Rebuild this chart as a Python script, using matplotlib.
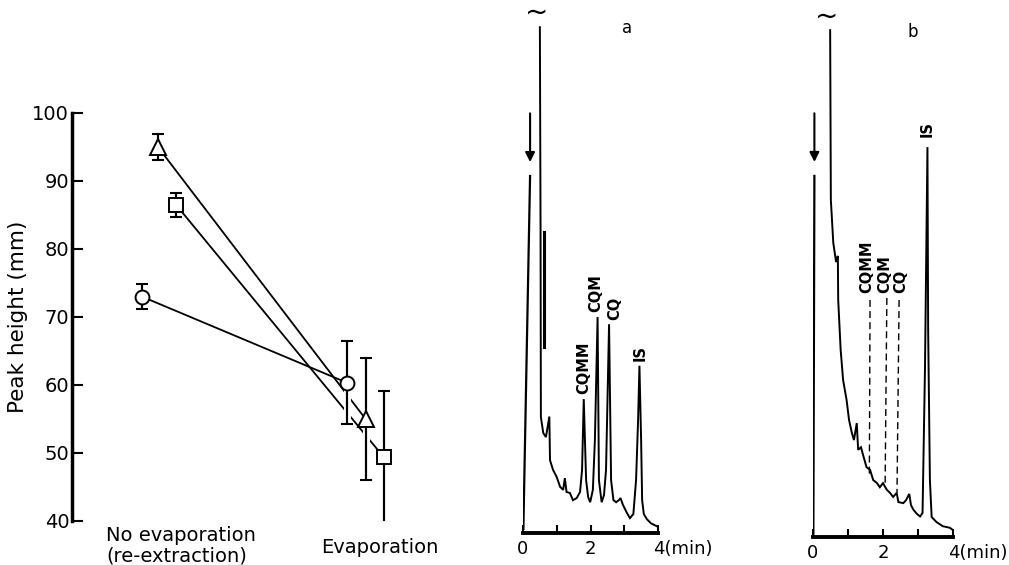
import matplotlib
matplotlib.use('Agg')
import matplotlib.pyplot as plt
import matplotlib.patheffects as pe
import matplotlib.transforms as mtransforms

# ---- left panel: peak height, no evaporation vs evaporation ----
conditions = ['No evaporation\n(re-extraction)', 'Evaporation']
circle_x = [0.0, 1.0]
circle_y = [73.0, 60.3]
circle_err = [1.8, 6.1]
triangle_x = [0.078, 1.088]
triangle_y = [95.0, 55.0]
triangle_err = [1.9, 9.0]
square_x = [0.166, 1.176]
square_y = [86.5, 49.4]
square_err = [1.8, 9.7]
yticks = [40, 50, 60, 70, 80, 90, 100]

# ---- chromatogram a (time in min, response in chart units) ----
a_inject_t = [0.01, 0.21]
a_inject_v = [0.6, 69.8]
a_shoulder_t = [0.62, 0.62]
a_shoulder_v = [58.7, 36.3]
a_t = [0.50, 0.52, 0.53, 0.60, 0.68, 0.78, 0.80, 0.89, 1.00, 1.10, 1.19, 1.24,
       1.29, 1.39, 1.48, 1.59, 1.69, 1.75, 1.80, 1.87, 1.93, 1.99, 2.07, 2.13,
       2.21, 2.25, 2.33, 2.40, 2.46, 2.55, 2.61, 2.68, 2.76, 2.84, 2.89, 2.96,
       3.08, 3.17, 3.27, 3.35, 3.41, 3.45, 3.50, 3.53, 3.58, 3.67, 3.79, 4.00]
a_v = [98.6, 59.1, 22.6, 19.5, 18.7, 22.7, 14.2, 12.3, 10.9, 9.0, 8.4, 10.7,
       8.0, 7.8, 6.4, 6.8, 8.0, 12.3, 26.1, 10.3, 7.0, 6.0, 8.4, 18.1,
       42.1, 10.3, 6.0, 7.4, 12.3, 40.7, 10.3, 6.4, 6.0, 6.4, 6.8, 5.5,
       3.9, 2.9, 3.7, 10.3, 22.0, 32.6, 18.1, 6.4, 3.7, 2.7, 1.9, 1.2]
a_peaks = ['CQMM', 'CQM', 'CQ', 'IS']
a_peak_t = [1.80, 2.15, 2.73, 3.47]
a_peak_v = [27.0, 43.0, 41.5, 33.5]

# ---- chromatogram b ----
b_inject_t = [0.01, 0.04]
b_inject_v = [0.4, 70.6]
b_t = [0.49, 0.51, 0.58, 0.66, 0.71, 0.72, 0.79, 0.86, 0.96, 1.03, 1.11, 1.17,
       1.25, 1.29, 1.37, 1.43, 1.53, 1.63, 1.72, 1.83, 1.91, 2.00, 2.11, 2.20,
       2.29, 2.39, 2.44, 2.58, 2.66, 2.75, 2.80, 2.87, 2.97, 3.06, 3.13, 3.20,
       3.27, 3.29, 3.34, 3.39, 3.53, 3.71, 3.91, 3.99]
b_v = [98.8, 65.7, 57.3, 53.6, 54.8, 46.2, 36.5, 30.6, 26.7, 22.8, 20.3, 18.9,
       22.2, 17.0, 17.5, 16.0, 13.6, 13.1, 11.1, 10.5, 9.7, 10.5, 9.2, 8.6,
       7.8, 8.6, 6.8, 6.6, 7.2, 8.4, 6.2, 5.3, 4.5, 4.0, 4.7, 33.1,
       76.0, 40.4, 11.1, 3.9, 2.9, 2.1, 1.8, 1.4]
b_peaks = ['CQMM', 'CQM', 'CQ', 'IS']
b_peak_t = [1.55, 2.06, 2.52, 3.25]
b_peak_v = [47.5, 47.5, 47.5, 78.0]
b_dash_t = [[1.63, 1.61], [2.11, 2.06], [2.46, 2.40]]
b_dash_v = [[46.2, 11.7], [46.6, 9.7], [46.2, 8.6]]

time_ticks = [0, 1, 2, 3, 4]
time_labels = ['0', '', '2', '', '4(min)']

plt.rcParams['font.family'] = ['DejaVu Sans']
fig = plt.figure(figsize=(10.09, 5.65), dpi=100)
W, H = 1009, 565

# left panel
ax = fig.add_axes([72 / W, 44 / H, 368 / W, 408 / H])
white = [pe.withStroke(linewidth=5, foreground='white')]
for xs, ys in [(circle_x, circle_y), (triangle_x, triangle_y), (square_x, square_y)]:
    ax.plot(xs, ys, color='black', lw=1.3, zorder=2)
for xs, ys, es, mk, ms in [(circle_x, circle_y, circle_err, 'o', 10),
                           (triangle_x, triangle_y, triangle_err, '^', 12),
                           (square_x, square_y, square_err, 's', 10)]:
    eb = ax.errorbar(xs, ys, yerr=es, fmt='none', ecolor='black', elinewidth=1.5,
                     capsize=4, capthick=1.5, zorder=3)
    for art in eb.lines[2]:
        art.set_path_effects(white + [pe.Normal()])
    ax.plot(xs, ys, linestyle='none', marker=mk, ms=ms, mfc='white', mec='black',
            mew=1.4, zorder=4)
ax.set_ylim(40, 100)
ax.set_xlim(-0.34, 1.45)
ax.set_yticks(yticks)
ax.tick_params(axis='y', direction='in', length=8, width=1.5, labelsize=14, pad=2)
ax.set_xticks([])
for s in ['top', 'right', 'bottom']:
    ax.spines[s].set_visible(False)
ax.spines['left'].set_linewidth(2.5)
ax.set_ylabel('Peak height (mm)', fontsize=15.5, labelpad=3)
ax.text(-0.175, -0.012, conditions[0], transform=ax.get_xaxis_transform(),
        ha='left', va='top', fontsize=14, linespacing=1.1)
ax.text(1.157, -0.042, conditions[1], transform=ax.get_xaxis_transform(),
        ha='center', va='top', fontsize=14)


def chromatogram(left_px, base_px, width_px, tag, tag_t, inject_t, inject_v, t, v,
                 peaks, peak_t, peak_v):
    c = fig.add_axes([left_px / W, (H - base_px) / H, width_px / W, 513 / H])
    c.set_xlim(0, 4)
    c.set_ylim(0, 100)
    c.plot(inject_t, inject_v, color='black', lw=1.6, solid_capstyle='butt')
    c.plot(t, v, color='black', lw=1.4, solid_joinstyle='miter')
    for name, pt, pv in zip(peaks, peak_t, peak_v):
        c.text(pt, pv, name, rotation=90, ha='center', va='bottom', fontsize=10.5,
               fontweight='semibold')
    c.annotate('', xy=(inject_t[1], inject_v[1] + 2.5),
               xytext=(inject_t[1], inject_v[1] + 12),
               arrowprops=dict(arrowstyle='-|>', color='black', lw=1.5,
                               mutation_scale=14, shrinkA=0, shrinkB=0))
    c.text(t[0] - 0.1, 101.5, '~', ha='center', va='center', fontsize=20,
           clip_on=False)
    c.text(tag_t, 98.5, tag, ha='center', va='center', fontsize=12)
    for s in ['top', 'right', 'left']:
        c.spines[s].set_visible(False)
    c.spines['bottom'].set_linewidth(2.8)
    c.set_yticks([])
    c.set_xticks(time_ticks)
    c.set_xticklabels(time_labels)
    c.tick_params(axis='x', direction='in', length=6, width=1.5, labelsize=13, pad=5)
    lbls = c.get_xticklabels()
    lbls[-1].set_horizontalalignment('left')
    lbls[-1].set_transform(lbls[-1].get_transform() +
                           mtransforms.ScaledTranslation(-5 / 100, 0, fig.dpi_scale_trans))
    return c


ca = chromatogram(523, 533, 135, 'a', 3.08, a_inject_t, a_inject_v, a_t, a_v,
                  a_peaks, a_peak_t, a_peak_v)
ca.plot(a_shoulder_t, a_shoulder_v, color='black', lw=2.2)

cb = chromatogram(813, 537, 140, 'b', 2.86, b_inject_t, b_inject_v, b_t, b_v,
                  b_peaks, b_peak_t, b_peak_v)
for dt, dv in zip(b_dash_t, b_dash_v):
    cb.plot(dt, dv, color='black', lw=1.0, linestyle=(0, (5, 3)))

fig.savefig('out.png', dpi=100)
